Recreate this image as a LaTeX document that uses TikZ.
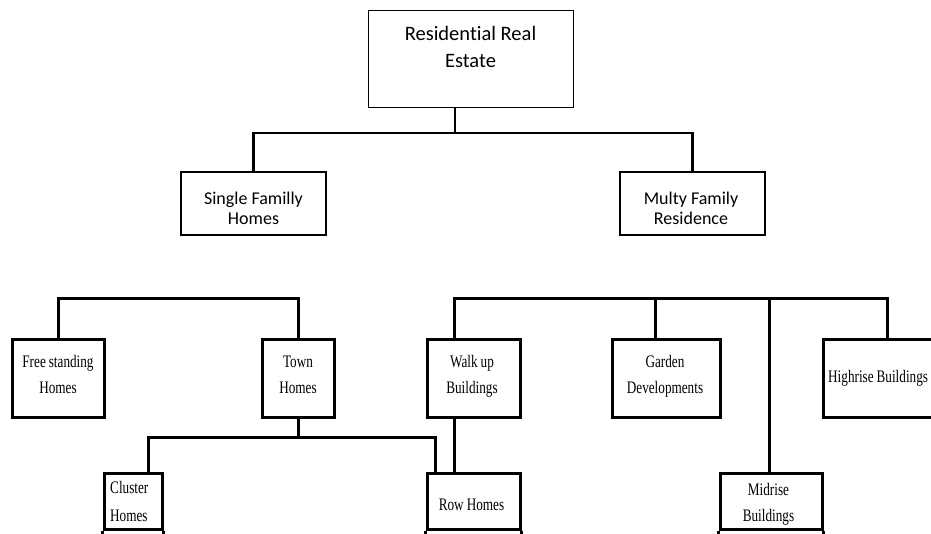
\documentclass[tikz,border=0pt]{standalone}
\usepackage{fontspec}
\newfontfamily\calib[Ligatures=NoCommon]{Carlito}
\newfontfamily\tms[FakeStretch=0.75]{Liberation Serif}
\newcommand\tsp{\hspace{3pt}}
\begin{document}
\begin{tikzpicture}[x=1pt,y=-1pt,
  topbox/.style={draw, line width=1pt, inner sep=0pt, minimum width=205pt, minimum height=97pt},
  midbox/.style={draw, line width=1.3pt, inner sep=0pt, minimum width=145pt, minimum height=63pt},
  lowbox/.style={draw, line width=3pt, inner sep=0pt, minimum height=78pt},
  leafbox/.style={draw, line width=3pt, inner sep=0pt, minimum height=56pt},
  toptxt/.style={inner sep=0pt, text width=200pt, align=flush center, anchor=base, font=\calib\fontsize{20.5}{27}\selectfont},
  midtxt/.style={inner sep=0pt, text width=140pt, align=flush center, anchor=base, font=\calib\fontsize{18}{20}\selectfont},
  lowtxt/.style={inner sep=0pt, text width=120pt, align=flush center, anchor=base, font=\tms\fontsize{17.6}{26}\selectfont},
  lowtxtl/.style={inner sep=0pt, text width=120pt, align=flush left, anchor=base west, font=\tms\fontsize{17.6}{28}\selectfont},
  upperline/.style={line width=2.2pt},
  lowerline/.style={line width=3pt}]
\useasboundingbox (0,0) rectangle (931,533);
\clip (0,0) rectangle (931,533);
\fill[white] (0,0) rectangle (931,533);

% boxes
\node[topbox] (top) at (470.5,58.5) {};
\node[midbox] (sf) at (253.5,203.5) {};
\node[midbox] (mf) at (692.5,203.5) {};
\node[lowbox, minimum width=92pt] (fs) at (58,378) {};
\node[lowbox, minimum width=72pt] (th) at (298,378) {};
\node[lowbox, minimum width=93pt] (wu) at (473.5,378) {};
\node[lowbox, minimum width=108pt] (gd) at (666,378) {};
\node[lowbox, minimum width=137pt] (hr) at (891.5,378) {};
\node[leafbox, minimum width=58pt] (cl) at (133,501) {};
\node[leafbox, minimum width=93pt] (rh) at (473.5,501) {};
\node[leafbox, minimum width=102pt] (md) at (771,501) {};
\foreach \b in {cl,rh,md}{
  \draw[line width=3pt] (\b.south west) -- ++(0,12);
  \draw[line width=3pt] (\b.south east) -- ++(0,12);
}

% texts
\node[toptxt] (topt) at (470.5,40) {Residential Real\\Estate};
\node[midtxt] (sft) at (253.5,204) {Single Familly\\Homes};
\node[midtxt] (mft) at (691,204) {Multy Family\\Residence};
\node[lowtxt] (fst) at (58,367) {Free\tsp standing\\Homes};
\node[lowtxt] (tht) at (298,367) {Town\\Homes};
\node[lowtxt] (wut) at (472,367) {Walk\tsp up\\Buildings};
\node[lowtxt] (gdt) at (665,367) {Garden\\Developments};
\node[lowtxtl] (hrt) at (828,382) {Highrise\tsp Buildings};
\node[lowtxtl] (clt) at (110,493) {Cluster\\Homes};
\node[lowtxt] (rht) at (471.5,510) {Row\tsp Homes};
\node[lowtxt] (mdt) at (768.5,495) {Midrise\\Buildings};

% junction coordinates
\coordinate (j0) at (455,133);
\coordinate (bL) at (180,298);
\coordinate (cA) at (148,437);
\coordinate (cB) at (435,437);
\coordinate (wA) at (454,298);
\coordinate (wG) at (655,298);
\coordinate (wM) at (769,298);
\coordinate (wH) at (887,298);

% upper connectors
\draw[upperline] (top.south -| j0) -- (j0);
\draw[upperline] (sf.north) |- (j0) -| (mf.north);

% lower connectors
\draw[lowerline] (fs.north) |- (bL) -| (th.north);
\draw[lowerline] (th.south) -- (th.south |- cA);
\draw[lowerline] (cl.north -| cA) -- (cA) -- (cB) -- (rh.north -| cB);
\draw[lowerline] (wu.north -| wA) -- (wA) -- (wH) -- (hr.north -| wH);
\draw[lowerline] (wG) -- (gd.north -| wG);
\draw[lowerline] (wM) -- (md.north -| wM);
\draw[lowerline] (wu.south -| wA) -- (rh.north -| wA);
\end{tikzpicture}
\end{document}
